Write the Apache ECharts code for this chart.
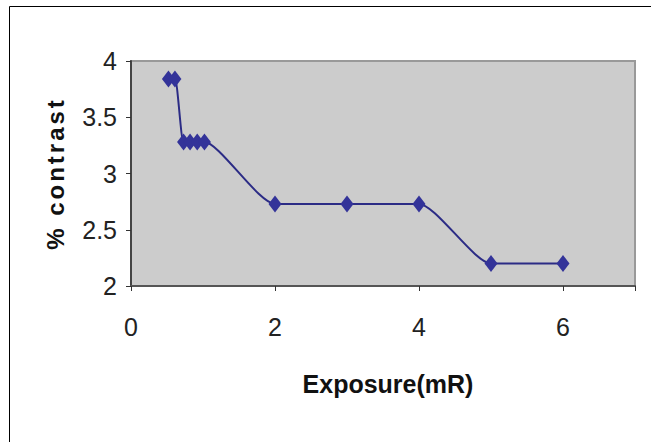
<!DOCTYPE html>
<html>
<head>
<meta charset="utf-8">
<script src="https://cdn.jsdelivr.net/npm/echarts@6/dist/echarts.min.js"></script>
<style>
html,body{margin:0;padding:0;background:#fff;}
#chart{width:651px;height:442px;}
</style>
</head>
<body>
<div id="chart"></div>
<script>
// Data
const exposure = [0.52, 0.61, 0.73, 0.82, 0.92, 1.02, 2, 3, 4, 5, 6];
const contrast = [3.84, 3.84, 3.28, 3.28, 3.28, 3.28, 2.73, 2.73, 2.73, 2.2, 2.2];
const xTicks = [0, 2, 4, 6];
const yTicks = [2, 2.5, 3, 3.5, 4];
const xName = 'Exposure(mR)';
const yName = '% contrast';

const points = exposure.map((x, i) => [x, contrast[i]]);
const FONT = '"Liberation Sans", Arial, sans-serif';

const chart = echarts.init(document.getElementById('chart'), null, {renderer: 'svg'});
chart.setOption({
  animation: false,
  backgroundColor: '#ffffff',
  graphic: [{
    type: 'rect', silent: true, z: 100,
    shape: {x: 9.5, y: 6.5, width: 700, height: 500},
    style: {fill: 'none', stroke: '#000', lineWidth: 1}
  }],
  grid: {
    left: 131, right: 16, top: 61, bottom: 156,
    show: true, backgroundColor: '#cccccc',
    borderColor: '#999999', borderWidth: 2
  },
  xAxis: {
    type: 'value', min: 0, max: 7, interval: 2,
    name: xName, nameLocation: 'middle', nameGap: 85,
    nameTextStyle: {fontFamily: FONT, fontWeight: 'bold', fontSize: 25, color: '#111', padding: [0, 0, 0, 10]},
    axisLine: {show: true, onZero: false, lineStyle: {color: '#555', width: 2}},
    axisTick: {show: true, length: 5, lineStyle: {color: '#333'}},
    axisLabel: {
      fontFamily: FONT, fontSize: 25, color: '#222', margin: 28,
      formatter: v => xTicks.indexOf(v) >= 0 ? String(v) : ''
    },
    splitLine: {show: false}
  },
  yAxis: {
    type: 'value', min: 2, max: 4, interval: 0.5,
    name: yName, nameLocation: 'middle', nameGap: 64, nameRotate: 90,
    nameTextStyle: {fontFamily: FONT, fontWeight: 'bold', fontSize: 24, color: '#111'},
    axisLine: {show: true, lineStyle: {color: '#444', width: 2}},
    axisTick: {show: true, length: 5, lineStyle: {color: '#333'}},
    axisLabel: {
      fontFamily: FONT, fontSize: 25, color: '#222', margin: 14,
      formatter: v => yTicks.indexOf(v) >= 0 ? String(v) : ''
    },
    splitLine: {show: false}
  },
  series: [{
    type: 'line',
    data: points,
    smooth: 0.2,
    symbol: 'diamond',
    symbolSize: [13, 17],
    lineStyle: {color: '#2b2b85', width: 2},
    itemStyle: {color: '#333399', borderWidth: 0}
  }]
});

function spaceName() {
  document.querySelectorAll('#chart svg text').forEach(t => {
    if (t.textContent === yName) t.setAttribute('letter-spacing', '3px');
  });
}
chart.on('finished', spaceName);
spaceName();
</script>
</body>
</html>
